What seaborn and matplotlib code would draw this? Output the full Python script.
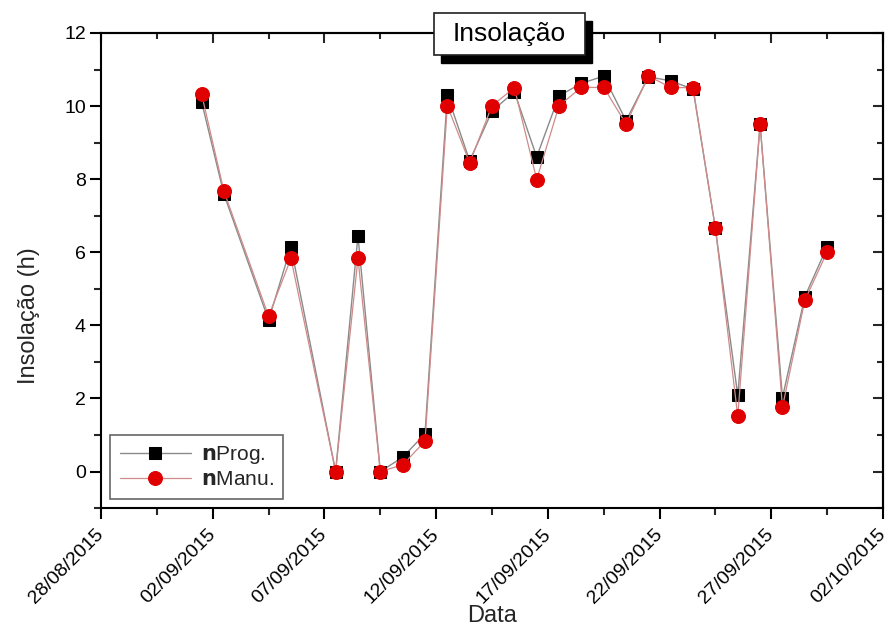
import pandas as pd
import numpy as np
import matplotlib
matplotlib.use('Agg')
import matplotlib.pyplot as plt
import matplotlib.dates as mdates
from matplotlib.patches import Rectangle
import seaborn as sns

# 데이터
datas = ['2015-09-01', '2015-09-02', '2015-09-04', '2015-09-05', '2015-09-07',
         '2015-09-08', '2015-09-09', '2015-09-10', '2015-09-11', '2015-09-12',
         '2015-09-13', '2015-09-14', '2015-09-15', '2015-09-16', '2015-09-17',
         '2015-09-18', '2015-09-19', '2015-09-20', '2015-09-21', '2015-09-22',
         '2015-09-23', '2015-09-24', '2015-09-25', '2015-09-26', '2015-09-27',
         '2015-09-28', '2015-09-29']
n_prog = [10.12, 7.59, 4.14, 6.15, 0.0, 6.45, 0.0, 0.39, 1.03, 10.30,
          8.50, 9.86, 10.39, 8.61, 10.28, 10.62, 10.82, 9.60, 10.80, 10.69,
          10.46, 6.65, 2.08, 9.50, 2.02, 4.78, 6.15]
n_manu = [10.33, 7.67, 4.25, 5.83, 0.0, 5.83, 0.0, 0.18, 0.83, 10.01,
          8.45, 10.01, 10.50, 7.99, 10.01, 10.51, 10.51, 9.51, 10.82, 10.51,
          10.50, 6.65, 1.51, 9.50, 1.76, 4.68, 6.01]
x_ticks = ['2015-08-28', '2015-09-02', '2015-09-07', '2015-09-12',
           '2015-09-17', '2015-09-22', '2015-09-27', '2015-10-02']
y_ticks = [0, 2, 4, 6, 8, 10, 12]

sns.set_style('ticks')
plt.rcParams['font.family'] = ['Liberation Sans', 'DejaVu Sans']

# 점은 하루의 정오에 찍혀 있음
x = pd.to_datetime(datas) + pd.Timedelta(hours=12)
df = pd.DataFrame({'Data': x, 'prog': n_prog, 'manu': n_manu})

fig = plt.figure(figsize=(8.91, 6.28), dpi=100)
ax = fig.add_axes([0.1134, 0.191, 0.8776, 0.7565])

sns.lineplot(data=df, x='Data', y='prog', ax=ax, color='#8a8a8a', lw=1.0,
             marker='s', markersize=8.5, markerfacecolor='black',
             markeredgecolor='black', label=r'$\mathbf{n}$Prog.')
sns.lineplot(data=df, x='Data', y='manu', ax=ax, color='#d08a8a', lw=0.9,
             marker='o', markersize=10, markerfacecolor='#e00000',
             markeredgecolor='#e00000', label=r'$\mathbf{n}$Manu.')

# 축 설정
ticks = pd.to_datetime(x_ticks)
minor = [t + pd.Timedelta(hours=60) for t in ticks[:-1]]
ax.set_xlim(ticks[0], ticks[-1])
ax.set_xticks(ticks)
ax.set_xticks(minor, minor=True)
ax.xaxis.set_major_formatter(mdates.DateFormatter('%d/%m/%Y'))
plt.setp(ax.get_xticklabels(), rotation=45, ha='right', va='center',
         rotation_mode='anchor')

ax.set_ylim(-1, 12)
ax.set_yticks(y_ticks)
ax.set_yticks(np.arange(-1, 13, 1), minor=True)

for s in ax.spines.values():
    s.set_visible(True)
    s.set_color('black')
    s.set_linewidth(1.5)

ax.tick_params(axis='both', which='major', direction='out', length=8, width=1.5,
               labelsize=14, colors='black', pad=3)
ax.tick_params(axis='x', which='major', pad=9)
ax.tick_params(axis='both', which='minor', direction='out', length=5, width=1.5)

# 위, 오른쪽 축의 안쪽 눈금
top = ax.secondary_xaxis('top')
top.set_xticks(ticks)
top.set_xticks(minor, minor=True)
top.tick_params(which='major', direction='in', length=7, width=1.5, labeltop=False)
top.tick_params(which='minor', direction='in', length=4, width=1.5)
top.spines['top'].set_linewidth(1.5)
right = ax.secondary_yaxis('right')
right.set_yticks(y_ticks)
right.set_yticks(np.arange(-1, 13, 1), minor=True)
right.tick_params(which='major', direction='in', length=7, width=1.5, labelright=False)
right.tick_params(which='minor', direction='in', length=4, width=1.5)
right.spines['right'].set_linewidth(1.5)

ax.set_xlabel('Data', fontsize=17)
ax.set_ylabel('Insolação (h)', fontsize=17)
ax.xaxis.set_label_coords(0.5, -0.205)
ax.yaxis.set_label_coords(-0.078, 0.406)

leg = ax.legend(loc='lower left', fontsize=15, frameon=True, fancybox=False,
                borderaxespad=0.45, handlelength=3.4, handletextpad=0.5,
                labelspacing=0.2, borderpad=0.45)
leg.get_frame().set_edgecolor('#404040')
leg.get_frame().set_linewidth(1.2)

# 제목 상자 (그림자 포함)
fig.add_artist(Rectangle((441 / 891, (628 - 63) / 628), 151 / 891, 42 / 628,
                         transform=fig.transFigure, fc='black', ec='black', zorder=5))
fig.add_artist(Rectangle((434 / 891, (628 - 55) / 628), 151 / 891, 42 / 628,
                         transform=fig.transFigure, fc='white', ec='#202020',
                         lw=1.2, zorder=6))
fig.text(509.5 / 891, (628 - 34) / 628, 'Insolação', fontsize=19, color='black',
         ha='center', va='center', zorder=7)

plt.savefig('out.png', dpi=100)
